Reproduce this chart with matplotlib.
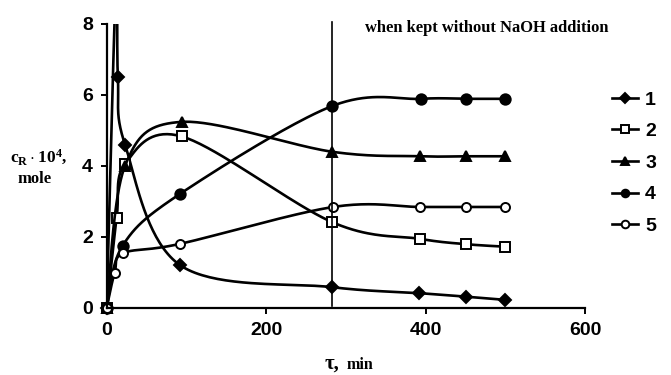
import numpy as np
import matplotlib
matplotlib.use("Agg")
import matplotlib.pyplot as plt

# ---- data ----
x1 = [0, 12, 14, 23, 92, 282, 392, 451, 500]
y1 = [0, 9.5, 6.5, 4.6, 1.2, 0.58, 0.41, 0.31, 0.22]
x2 = [0, 12.5, 23, 94, 283, 393, 451, 500]
y2 = [0, 2.54, 4.05, 4.83, 2.41, 1.94, 1.79, 1.72]
x3 = [0, 23, 94, 282, 393, 451, 500]
y3 = [0, 4.0, 5.24, 4.4, 4.27, 4.27, 4.27]
x4 = [0, 20, 92, 282, 394, 451, 500]
y4 = [0, 1.75, 3.21, 5.68, 5.89, 5.89, 5.89]
x5 = [0, 10, 21, 92, 284, 393, 451, 500]
y5 = [0, 0.99, 1.54, 1.8, 2.84, 2.84, 2.84, 2.84]
labels = ["1", "2", "3", "4", "5"]
xticks = [0, 200, 400, 600]
yticks = [0, 2, 4, 6, 8]
vline_x = 282

plt.rcParams['mathtext.fontset'] = 'custom'
plt.rcParams['mathtext.rm'] = 'Liberation Serif:bold'
plt.rcParams['mathtext.it'] = 'Liberation Serif:bold'
plt.rcParams['mathtext.bf'] = 'Liberation Serif:bold'

fig = plt.figure(figsize=(6.71, 3.75), dpi=100)
ax = fig.add_axes([0.159, 0.1795, 0.872 - 0.159, 0.936 - 0.1795])
ax.set_xlim(0, 600)
ax.set_ylim(0, 8)

SX, SY = 0.7975, 35.4  # rendering scale (px per unit) for Excel-like smoothing


def smooth(xs, ys, n=40):
    P = np.column_stack([np.asarray(xs, float) * SX, np.asarray(ys, float) * SY])
    pts = [P[0]]
    for i in range(len(P) - 1):
        p0 = P[i - 1] if i > 0 else P[i]
        p1, p2 = P[i], P[i + 1]
        p3 = P[i + 2] if i + 2 < len(P) else P[i + 1]
        b1 = p1 + (p2 - p0) / 6.0
        b2 = p2 - (p3 - p1) / 6.0
        t = np.linspace(0, 1, n)[1:, None]
        seg = ((1 - t) ** 3) * p1 + 3 * ((1 - t) ** 2) * t * b1 + 3 * (1 - t) * t ** 2 * b2 + t ** 3 * p2
        pts.extend(seg)
    pts = np.array(pts)
    return pts[:, 0] / SX, pts[:, 1] / SY


series = [(x1, y1, 'D', 'k', 6.5), (x2, y2, 's', 'w', 6.5), (x3, y3, '^', 'k', 7),
          (x4, y4, 'o', 'k', 7.5), (x5, y5, 'o', 'w', 6.5)]
lw = 1.9
for (xs, ys, m, fc, ms), lab in zip(series, labels):
    sx, sy = smooth(xs, ys)
    ax.plot(sx, sy, color='k', lw=lw, solid_capstyle='round')
    xin = [a for a, b in zip(xs, ys) if b <= 8]
    yin = [b for b in ys if b <= 8]
    ax.plot(xin, yin, ls='none', marker=m, ms=ms, mfc=fc, mec='k', mew=1.4, clip_on=False)
    ax.plot([], [], color='k', lw=lw, marker=m, ms=ms, mfc=fc, mec='k', mew=1.4, label=lab)

ax.plot([vline_x, vline_x], [0.05, 8.05], color='k', lw=1.2, clip_on=False)

for s in ['top', 'right']:
    ax.spines[s].set_visible(False)
for s in ['left', 'bottom']:
    ax.spines[s].set_linewidth(1.6)
ax.set_xticks(xticks)
ax.set_yticks(yticks)
ax.tick_params(direction='out', length=4, width=1.4, pad=6)
for lbl in ax.get_xticklabels() + ax.get_yticklabels():
    lbl.set_fontfamily('Liberation Sans')
    lbl.set_fontweight('bold')
    lbl.set_fontsize(14)

fig.text(10 / 671, 1 - 157 / 375, r'$\mathrm{c_R \cdot 10^4,}$', fontsize=12.5, va='center', ha='left')
fig.text(18 / 671, 1 - 179 / 375, 'mole', family='Liberation Serif', fontweight='bold', fontsize=12,
         va='center', ha='left')
fig.text(325 / 671, 1 - 364 / 375, 'τ,', family='Liberation Serif', fontweight='bold', fontsize=15,
         va='center', ha='left')
fig.text(347 / 671, 1 - 365 / 375, 'min', family='Liberation Serif', fontweight='bold', fontsize=11.5,
         va='center', ha='left')
fig.text(487 / 671, 1 - 28 / 375, 'when kept without NaOH addition', family='Liberation Serif',
         fontweight='bold', fontsize=11.9, va='center', ha='center')

leg = fig.legend(loc='upper left', bbox_to_anchor=(612 / 671, 1 - 91 / 375), frameon=False,
                 prop={'family': 'Liberation Sans', 'weight': 'bold', 'size': 14},
                 handlelength=1.35, handletextpad=0.35, labelspacing=0.72, borderpad=0,
                 borderaxespad=0)
for h in leg.legend_handles:
    h.set_markersize(5.5)

fig.savefig('out.png', dpi=100)
